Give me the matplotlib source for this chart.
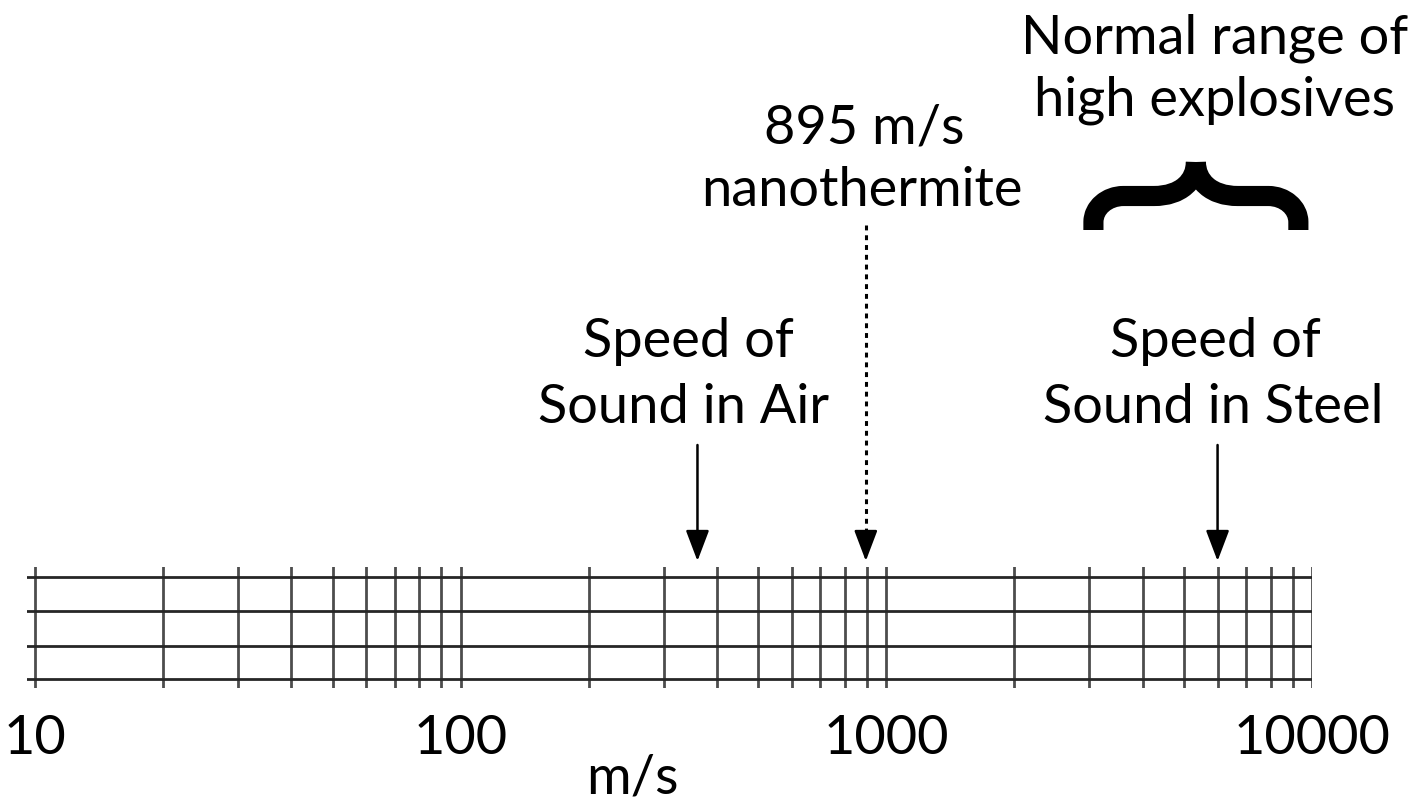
import numpy as np
import matplotlib
matplotlib.use("Agg")
import matplotlib.pyplot as plt
from matplotlib.path import Path
from matplotlib.patches import PathPatch, FancyArrowPatch
from matplotlib.lines import Line2D

plt.rcParams['font.family'] = ['Lato', 'DejaVu Sans']

# scale data
decades = [10, 100, 1000, 10000]
tick_labels = ["10", "100", "1000", "10000"]
row_levels = [0.075, 0.35, 0.64, 0.92]

# marked speeds (m/s)
air_speed = 360
nanothermite_speed = 895
steel_speed = 6000
explosive_range = [3000, 9700]

W, H = 1427, 806
fig = plt.figure(figsize=(W / 100, H / 100), dpi=100)

# axes placed by pixel so the ruler sits like the original
left_px, right_px, top_px, bot_px = 27, 1312, 567, 688
ax = fig.add_axes([left_px / W, 1 - bot_px / H, (right_px - left_px) / W, (bot_px - top_px) / H])
ax.set_xscale("log")
dec_px = (right_px - 35) / 3.0
ax.set_xlim(10 ** (1 - 8 / dec_px), 10000)
ax.set_ylim(0, 1)
ax.axis("off")

# vertical grid: 10,20,...,90,100,200,...,10000
minor = [m * d for d in decades[:-1] for m in range(1, 10)] + [decades[-1]]
for v in minor:
    ax.axvline(v, color="#2e2e2e", lw=2.0, alpha=0.85)
for y in row_levels:
    ax.axhline(y, color="#262626", lw=2.0)

# tick labels
for v, lab in zip(decades, tick_labels):
    ax.text(v, -0.42, lab, ha="center", va="center", fontsize=39,
            transform=ax.get_xaxis_transform())
fig.text(632 / W, 1 - 778 / H, "m/s", ha="center", va="center", fontsize=39)


def fy(py):
    return 1 - py / H


def fx_of(v):
    # x in figure fraction for a data value
    disp = ax.transData.transform((v, 0.5))
    return fig.transFigure.inverted().transform(disp)[0]


# arrows
arrow_tip = fy(561)
head_len = 20 / H
for v, start, dotted in [(air_speed, fy(445), False), (nanothermite_speed, fy(225), True),
                         (steel_speed, fy(445), False)]:
    x = fx_of(v)
    if dotted:
        fig.add_artist(Line2D([x, x], [start, arrow_tip + head_len], transform=fig.transFigure,
                              color="black", lw=2.2, linestyle=(0, (1.6, 1.6))))
        start = arrow_tip + head_len * 1.05
    fig.add_artist(FancyArrowPatch(
        (x, start), (x, arrow_tip), transform=fig.transFigure,
        arrowstyle="-|>,head_length=0.95,head_width=0.36", mutation_scale=20,
        lw=1.8, color="black", shrinkA=0, shrinkB=0))

# labels
fs = 39
fig.text(688 / W, fy(342), "Speed of", ha="center", va="center", fontsize=fs)
fig.text(684 / W, fy(407), "Sound in Air", ha="center", va="center", fontsize=fs)
fig.text(1215 / W, fy(342), "Speed of", ha="center", va="center", fontsize=fs)
fig.text(1213 / W, fy(407), "Sound in Steel", ha="center", va="center", fontsize=fs)
fig.text(864 / W, fy(128), "895 m/s", ha="center", va="center", fontsize=fs)
fig.text(862 / W, fy(190), "nanothermite", ha="center", va="center", fontsize=fs)
fig.text(1215 / W, fy(38), "Normal range of", ha="center", va="center", fontsize=fs)
fig.text(1215 / W, fy(100), "high explosives", ha="center", va="center", fontsize=fs)

# curly brace over the explosive range, drawn as two thick halves
xl = fx_of(explosive_range[0]) + 4 / W
xr = fx_of(explosive_range[1]) - 8 / W
xm = (xl + xr) / 2
rc = 30 / W       # corner radius (x)
rcy = 26 / H      # corner radius (y)
cw = 42 / W       # width of the central rise
y_foot, y_bar, y_peak = fy(230), fy(196), fy(162)


def half(x0, sgn):
    v = [(x0, y_foot), (x0, y_bar - rcy),
         (x0, y_bar - rcy * 0.45), (x0 + sgn * rc * 0.45, y_bar), (x0 + sgn * rc, y_bar),
         (xm - sgn * cw, y_bar),
         (xm - sgn * cw * 0.35, y_bar), (xm, y_bar + (y_peak - y_bar) * 0.45), (xm, y_peak)]
    c = [Path.MOVETO, Path.LINETO, Path.CURVE4, Path.CURVE4, Path.CURVE4,
         Path.LINETO, Path.CURVE4, Path.CURVE4, Path.CURVE4]
    return Path(v, c)


for p in (half(xl, 1), half(xr, -1)):
    fig.add_artist(PathPatch(p, transform=fig.transFigure, fill=False, lw=14.5,
                             edgecolor="black", capstyle="butt", joinstyle="round"))

fig.savefig("out.png", dpi=100, facecolor="white")
